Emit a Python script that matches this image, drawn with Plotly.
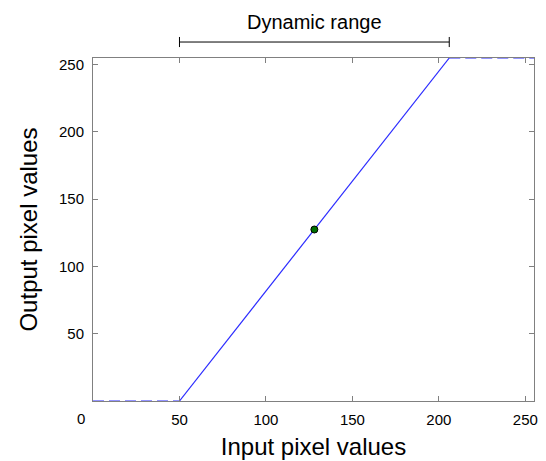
import plotly.graph_objects as go

# data
ramp_x = [50, 206]
ramp_y = [0, 255]
low_x = [0, 50]
low_y = [0, 0]
high_x = [206, 255]
high_y = [255, 255]
mid_x = [128]
mid_y = [127.5]
range_start = 50
range_end = 206
range_label = "Dynamic range"
x_ticks = [0, 50, 100, 150, 200, 250]
y_ticks = [50, 100, 150, 200, 250]

blue = "#2b2bff"
fig = go.Figure()
fig.add_trace(go.Scatter(x=low_x, y=low_y, mode="lines",
                         line=dict(color=blue, width=1.2, dash="11px,5px"),
                         cliponaxis=False, hoverinfo="skip"))
fig.add_trace(go.Scatter(x=high_x, y=high_y, mode="lines",
                         line=dict(color=blue, width=1.2, dash="11px,5px"),
                         cliponaxis=False, hoverinfo="skip"))
fig.add_trace(go.Scatter(x=ramp_x, y=ramp_y, mode="lines",
                         line=dict(color=blue, width=1.2),
                         cliponaxis=False))
fig.add_trace(go.Scatter(x=mid_x, y=mid_y, mode="markers",
                         marker=dict(color="#006f00", size=7,
                                     line=dict(color="black", width=1)),
                         cliponaxis=False))

# bracket above the plot (paper y)
by = 1.0466
cap = 0.0147
fig.add_shape(type="line", xref="x", yref="paper", x0=range_start, x1=range_end,
              y0=by, y1=by, line=dict(color="black", width=1))
fig.add_shape(type="line", xref="x", yref="paper", x0=range_start, x1=range_start,
              y0=by - cap, y1=by + cap, line=dict(color="black", width=1))
fig.add_shape(type="line", xref="x", yref="paper", x0=range_end, x1=range_end,
              y0=by - cap, y1=by + cap, line=dict(color="black", width=1))
fig.add_annotation(x=(range_start + range_end) / 2, y=1.105, xref="x", yref="paper",
                   text=range_label, showarrow=False, yanchor="middle",
                   font=dict(size=20, color="black"))

# the corner "0" label sits left of the axis origin
fig.add_annotation(x=x_ticks[0], y=0, xref="x", yref="y", text=str(x_ticks[0]),
                   showarrow=False, xshift=-12, yshift=-17, yanchor="middle",
                   font=dict(size=15, color="black"))

axis_common = dict(showline=True, linecolor="#808080", linewidth=1, mirror="ticks",
                   ticks="inside", ticklen=5, tickcolor="#808080", showgrid=False,
                   zeroline=False, tickfont=dict(size=15, color="black"))
fig.update_xaxes(range=[0, 255], tickvals=x_ticks,
                 ticktext=[""] + [str(v) for v in x_ticks[1:]],
                 ticklabelstandoff=5, **axis_common,
                 title=dict(text="Input pixel values", font=dict(size=24, color="black"),
                            standoff=11))
fig.update_yaxes(range=[0, 255], tickvals=y_ticks, ticklabelstandoff=5, **axis_common,
                 title=dict(text="Output pixel values", font=dict(size=24, color="black"),
                            standoff=14))
fig.update_layout(width=546, height=461, showlegend=False,
                  margin=dict(l=93, r=12, t=58, b=60, autoexpand=False),
                  plot_bgcolor="white", paper_bgcolor="white",
                  font=dict(family="Liberation Sans, Arial, sans-serif", color="black"))
fig.write_html("out.html", config={"displayModeBar": False},
               post_script="document.body.style.margin='0';")
